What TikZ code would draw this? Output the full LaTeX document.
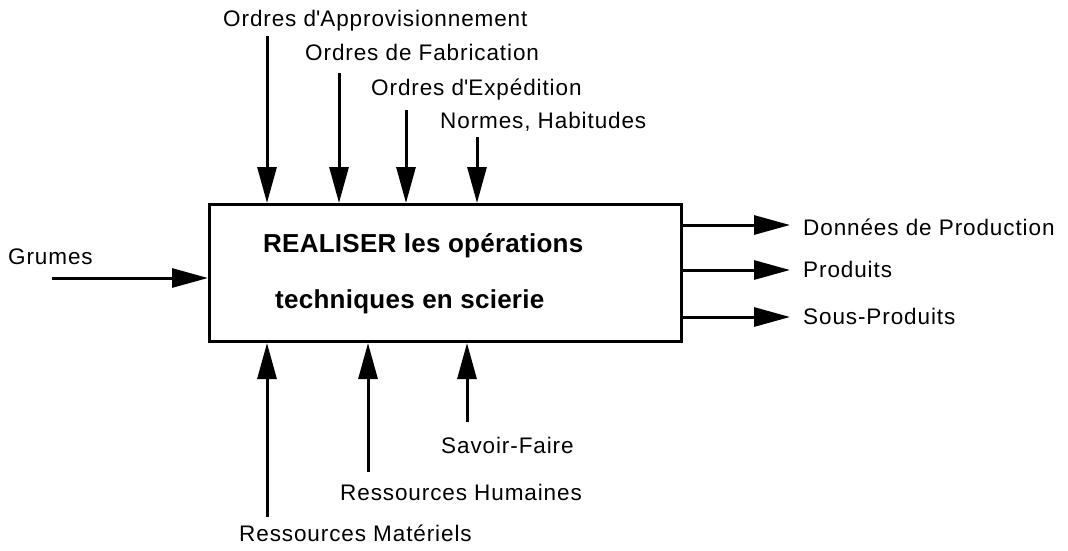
\documentclass[tikz,border=0pt]{standalone}
\usepackage{fontspec}
\setmainfont{Liberation Sans}
\usetikzlibrary{arrows.meta}
\begin{document}
\begin{tikzpicture}[x=1pt,y=-1pt,
  lbl/.style={anchor=base west,inner sep=0pt,font=\fontsize{22.5}{26}\selectfont\addfontfeatures{LetterSpace=4}},
  ttl/.style={anchor=base west,inner sep=0pt,font=\fontsize{26}{30}\bfseries\selectfont\addfontfeatures{LetterSpace=1}},
  flow/.style={line width=3pt,-{Triangle[length=36pt,width=19pt]}},
  boxstyle/.style={draw,line width=3pt,minimum width=472pt,minimum height=137pt,inner sep=0pt,anchor=north west}]
\useasboundingbox (0,0) rectangle (1068,550);
\node[boxstyle] (box) at (208,203) {};
\node[ttl] (t1) at (263,252) {REALISER les opérations};
\node[ttl] (t2) at (275,308) {techniques en scierie};
% top labels
\node[lbl] (oa) at (223,26) {Ordres d\textquotesingle Approvisionnement};
\node[lbl] (of) at (305,60) {Ordres de Fabrication};
\node[lbl] (oe) at (371,95) {Ordres d\textquotesingle Expédition};
\node[lbl] (nh) at (440,128) {Normes, Habitudes};
\coordinate (soa) at (267,36);
\coordinate (sof) at (339,73);
\coordinate (soe) at (406,110);
\coordinate (snh) at (477,137);
\draw[flow] (soa) -- (soa |- box.north);
\draw[flow] (sof) -- (sof |- box.north);
\draw[flow] (soe) -- (soe |- box.north);
\draw[flow] (snh) -- (snh |- box.north);
% left
\node[lbl] (gr) at (8,264) {Grumes};
\coordinate (sgr) at (52,278);
\draw[flow] (sgr) -- (sgr -| box.west);
% right
\node[lbl] (dp) at (803,235) {Données de Production};
\node[lbl] (pr) at (803,277) {Produits};
\node[lbl] (sp) at (803,324) {Sous-Produits};
\coordinate (edp) at (790,225);
\coordinate (epr) at (790,270);
\coordinate (esp) at (790,317);
\draw[flow] (edp -| box.east) -- (edp);
\draw[flow] (epr -| box.east) -- (epr);
\draw[flow] (esp -| box.east) -- (esp);
% bottom
\node[lbl] (sf) at (441,453) {Savoir-Faire};
\node[lbl] (rh) at (340,500) {Ressources Humaines};
\node[lbl] (rm) at (239,541) {Ressources Matériels};
\coordinate (ssf) at (467,422);
\coordinate (srh) at (368,472);
\coordinate (srm) at (267,517);
\draw[flow] (ssf) -- (ssf |- box.south);
\draw[flow] (srh) -- (srh |- box.south);
\draw[flow] (srm) -- (srm |- box.south);
\end{tikzpicture}
\end{document}
